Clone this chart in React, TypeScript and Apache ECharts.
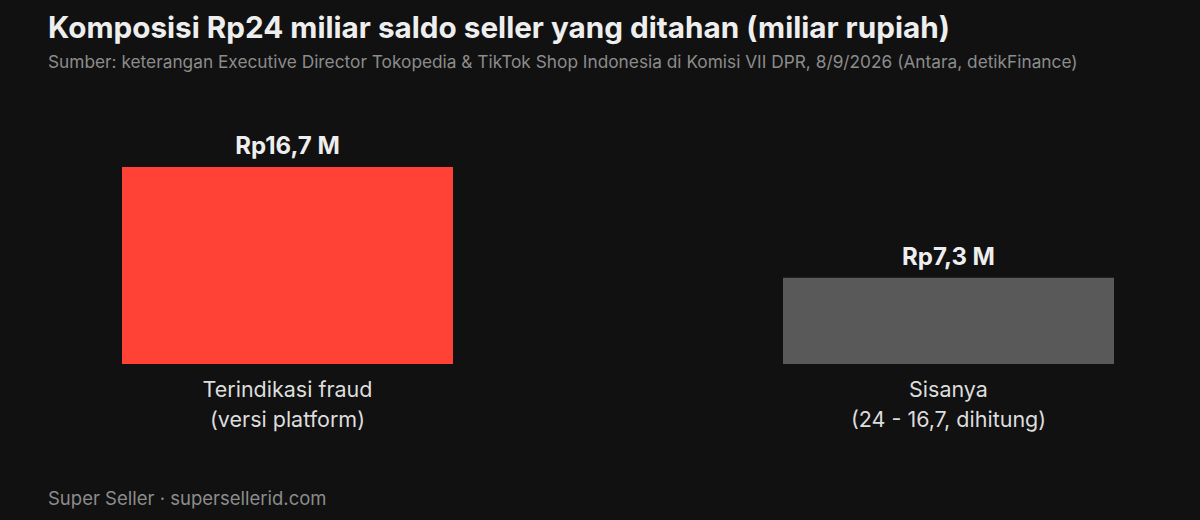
import React, { useEffect, useRef } from "react";
import * as echarts from "echarts";

const categories = ["Terindikasi fraud\n(versi platform)", "Sisanya\n(24 - 16,7, dihitung)"];
const values = [16.7, 7.3];
const valueLabels = ["Rp16,7 M", "Rp7,3 M"];
const barColors = ["#FF4136", "#595959"];

const titleText = "Komposisi Rp24 miliar saldo seller yang ditahan (miliar rupiah)";
const subtitleText =
  "Sumber: keterangan Executive Director Tokopedia & TikTok Shop Indonesia di Komisi VII DPR, 8/9/2026 (Antara, detikFinance)";
const footerText = "Super Seller · supersellerid.com";

const FONT = "Inter, 'Noto Sans', sans-serif";

export default function App() {
  const ref = useRef<HTMLDivElement>(null);
  useEffect(() => {
    document.body.style.margin = "0";
    document.body.style.background = "#111111";
    if (!ref.current) return;
    const chart = echarts.init(ref.current, undefined, { renderer: "svg" });
    chart.setOption({
      animation: false,
      backgroundColor: "#111111",
      textStyle: { fontFamily: FONT },
      title: [
        {
          text: titleText,
          left: 43,
          top: 7,
          textStyle: { color: "#EEEEEE", fontSize: 29.7, fontWeight: "bold", fontFamily: FONT },
        },
        {
          text: subtitleText,
          left: 43,
          top: 48,
          textStyle: { color: "#8C8C8C", fontSize: 17.3, fontWeight: "normal", fontFamily: FONT },
        },
        {
          text: footerText,
          left: 43,
          top: 483,
          textStyle: { color: "#8C8C8C", fontSize: 18.5, fontWeight: "normal", fontFamily: FONT },
        },
      ],
      grid: { left: 287.5, right: 251.5, top: 128, bottom: 156 },
      xAxis: {
        type: "category",
        boundaryGap: false,
        data: categories,
        axisLine: { show: false },
        axisTick: { show: false },
        axisLabel: {
          color: "#DDDDDD",
          fontSize: 21.5,
          lineHeight: 30,
          margin: 10,
          fontFamily: FONT,
        },
      },
      yAxis: {
        type: "value",
        min: 0,
        max: 20,
        show: false,
        splitLine: { show: false },
      },
      series: [
        {
          type: "bar",
          barWidth: 331,
          clip: false,
          data: values.map((v, i) => ({
            value: v,
            itemStyle: { color: barColors[i] },
            label: {
              show: true,
              position: "top",
              distance: 9,
              formatter: valueLabels[i],
              color: "#EEEEEE",
              fontSize: 24,
              fontWeight: "bold",
              fontFamily: FONT,
            },
          })),
        },
      ],
    });
    return () => chart.dispose();
  }, []);
  return <div ref={ref} style={{ width: 1200, height: 520 }} />;
}
